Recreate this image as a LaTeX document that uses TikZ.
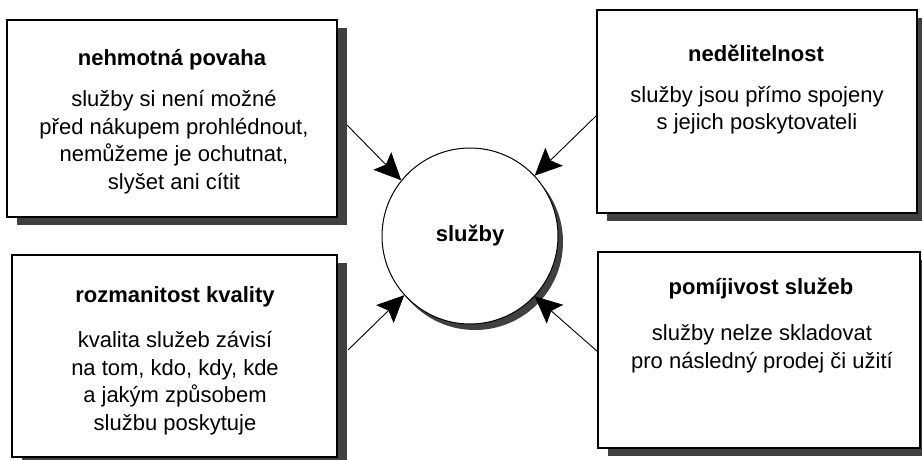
\documentclass[tikz,border=0pt]{standalone}
\usepackage{fontspec}
\setmainfont{Liberation Sans}
\usetikzlibrary{arrows.meta,shadows}
\tikzset{
  box/.style={draw=black, line width=1.3pt, fill=white, inner sep=0pt,
    drop shadow={shadow xshift=10pt, shadow yshift=-8pt, fill=black!75, opacity=1}},
  ttl/.style={font=\fontsize{22}{27}\selectfont\bfseries, inner sep=0pt},
  bodytext/.style={font=\fontsize{22}{27.5}\selectfont, align=center, inner sep=0pt},
  hub/.style={circle, draw=black, line width=1pt, fill=white, minimum size=176pt, inner sep=0pt,
    drop shadow={shadow xshift=5pt, shadow yshift=-6pt, fill=black!75, opacity=1},
    font=\fontsize{22}{27}\selectfont\bfseries},
  arr/.style={line width=0.9pt, -{Stealth[length=27pt,width=25pt,inset=5pt]}}
}
\begin{document}
\begin{tikzpicture}[x=1pt,y=-1pt]
\useasboundingbox (0,0) rectangle (922,459);
\clip (0,0) rectangle (922,459);
% boxes
\node[box, minimum width=330pt, minimum height=197pt] (b1) at (172,118.5) {};
\node[box, minimum width=320pt, minimum height=203pt] (b2) at (757,111.5) {};
\node[box, minimum width=325pt, minimum height=202pt] (b3) at (174.5,356) {};
\node[box, minimum width=322pt, minimum height=196pt] (b4) at (759,350) {};
% texts
\node[ttl] (t1) at (172,60) {nehmotná povaha};
\node[bodytext] (d1) at (174,142) {služby si není možné\\před nákupem prohlédnout,\\nemůžeme je ochutnat,\\slyšet ani cítit};
\node[ttl] (t2) at (756,53) {nedělitelnost};
\node[bodytext] (d2) at (757,110) {služby jsou přímo spojeny\\s jejich poskytovateli};
\node[ttl] (t3) at (175,297) {rozmanitost kvality};
\node[bodytext] (d3) at (175,383) {kvalita služeb závisí\\na tom, kdo, kdy, kde\\a jakým způsobem\\službu poskytuje};
\node[ttl] (t4) at (761,289) {pomíjivost služeb};
\node[bodytext] (d4) at (762,349) {služby nelze skladovat\\pro následný prodej či užití};
% hub
\node[hub] (c) at (470,236) {služby};
% arrows
\coordinate (a1) at (347,125);
\coordinate (a2) at (597,115);
\coordinate (a3) at (348,350);
\coordinate (a4) at (598,352);
\draw[arr] (a1) -- (c.141);
\draw[arr] (a2) -- (c.43);
\draw[arr] (a3) -- (c.222);
\draw[arr] (a4) -- (c.317);
\end{tikzpicture}
\end{document}
